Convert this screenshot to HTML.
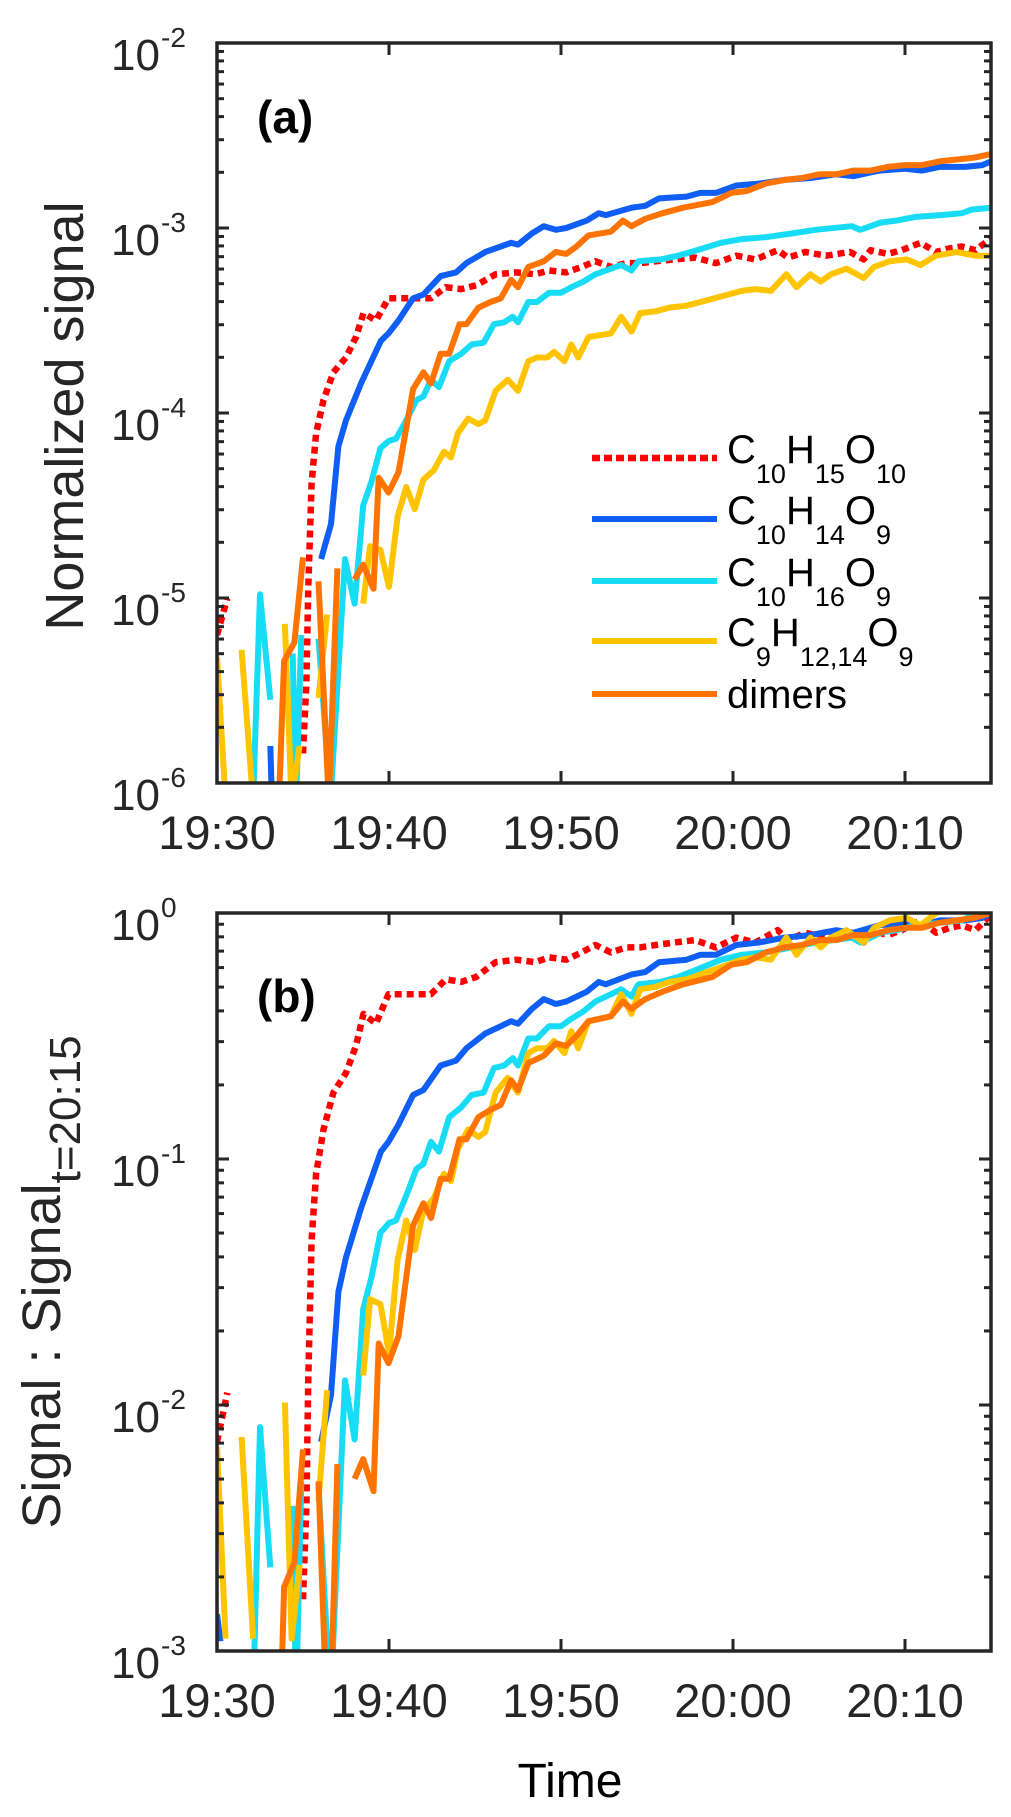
<!DOCTYPE html>
<html><head><meta charset="utf-8"><style>
html,body{margin:0;padding:0;background:#fff;}
svg{display:block;font-family:"Liberation Sans",Arial,sans-serif;}
</style></head><body>
<svg id="chart" width="1011" height="1817" viewBox="0 0 1011 1817" xmlns="http://www.w3.org/2000/svg">
<defs>
<clipPath id="clipA"><rect x="217" y="43" width="774" height="740"/></clipPath>
<clipPath id="clipB"><rect x="217" y="913" width="774" height="738"/></clipPath>
</defs>
<g id="panelA"></g>
<g id="panelB"></g>
<text x="257" y="133" font-size="46" font-weight="bold" fill="#000">(a)</text>
<text x="257" y="1012" font-size="46" font-weight="bold" fill="#000">(b)</text>
<text transform="translate(83,416) rotate(-90)" text-anchor="middle" font-size="54" fill="#262626">Normalized signal</text>
<text transform="translate(60,1282) rotate(-90)" text-anchor="middle" font-size="54" fill="#262626">Signal : Signal<tspan font-size="44" dy="20">t=20:15</tspan></text>
<text x="570" y="1797" text-anchor="middle" font-size="48" fill="#000">Time</text>
<g fill="#000">
 <line x1="592" y1="458" x2="717" y2="458" stroke="#ff0000" stroke-width="6.5" stroke-dasharray="8 4"/>
 <text x="727" y="463" font-size="40">C<tspan font-size="27" dy="20">10</tspan><tspan dy="-20">H</tspan><tspan font-size="27" dy="20">15</tspan><tspan dy="-20">O</tspan><tspan font-size="27" dy="20">10</tspan></text>
 <line x1="592" y1="519" x2="717" y2="519" stroke="#0f5ef5" stroke-width="6"/>
 <text x="727" y="524" font-size="40">C<tspan font-size="27" dy="20">10</tspan><tspan dy="-20">H</tspan><tspan font-size="27" dy="20">14</tspan><tspan dy="-20">O</tspan><tspan font-size="27" dy="20">9</tspan></text>
 <line x1="592" y1="581" x2="717" y2="581" stroke="#18dcf5" stroke-width="6"/>
 <text x="727" y="586" font-size="40">C<tspan font-size="27" dy="20">10</tspan><tspan dy="-20">H</tspan><tspan font-size="27" dy="20">16</tspan><tspan dy="-20">O</tspan><tspan font-size="27" dy="20">9</tspan></text>
 <line x1="592" y1="641" x2="717" y2="641" stroke="#ffc400" stroke-width="6"/>
 <text x="727" y="646" font-size="40">C<tspan font-size="27" dy="20">9</tspan><tspan dy="-20">H</tspan><tspan font-size="27" dy="20">12,14</tspan><tspan dy="-20">O</tspan><tspan font-size="27" dy="20">9</tspan></text>
 <line x1="592" y1="694" x2="717" y2="694" stroke="#ff7300" stroke-width="6"/>
 <text x="727" y="708" font-size="40">dimers</text>
</g>
</svg>
<script>
// time in minutes after 19:30, values as log10(signal)
const redTime = [0,0.3,0.6,0.7,4.5,4.7,4.9,5.0,5.2,5.3,5.5,5.76,6.19,6.77,7.5,8.08,8.52,9.24,9.97,11.0,12.44,13.3,14.2,15.06,16.2,17.4,18.5,19.3,20.3,21.2,22.0,22.9,23.8,24.6,25.5,26.6,27.8,29.0,30.2,31.3,32.6,33.2,34.2,35.4,36.8,37.6,38.0,39.0,39.8,40.9,41.8,42.6,43.3,44.1,44.8,45.0];
const redLog = [-5.2,-5.1,-5.0,null,-5.55,-5.65,null,-5.84,-5.46,-4.96,-4.38,-4.11,-3.93,-3.78,-3.70,-3.59,-3.46,-3.50,-3.38,-3.38,-3.38,-3.32,-3.33,-3.31,-3.25,-3.24,-3.25,-3.23,-3.24,-3.21,-3.18,-3.21,-3.19,-3.19,-3.18,-3.17,-3.16,-3.19,-3.15,-3.17,-3.12,-3.16,-3.13,-3.15,-3.13,-3.17,-3.12,-3.14,-3.12,-3.08,-3.13,-3.11,-3.10,-3.12,-3.07,-3.05];
const blueTime = [0,0.2,0.3,3.1,3.2,3.3,6.05,6.63,7.06,7.5,8.37,9.53,9.97,10.55,11.4,12.0,13.0,13.9,14.5,15.6,16.5,17.1,17.5,18.3,19.0,19.7,20.3,21.5,22.2,22.6,24.1,24.9,25.7,27.3,28.1,29.0,30.2,31.5,33.0,34.5,36.0,37.0,38.5,40.0,41.0,42.0,43.5,44.5,45];
const blueLog = [-5.49,-5.6,null,-5.8,-6.1,null,-4.79,-4.60,-4.18,-4.04,-3.84,-3.61,-3.57,-3.50,-3.38,-3.36,-3.26,-3.24,-3.19,-3.13,-3.10,-3.08,-3.09,-3.03,-2.99,-3.01,-3.00,-2.96,-2.92,-2.93,-2.89,-2.88,-2.84,-2.83,-2.81,-2.81,-2.77,-2.76,-2.74,-2.73,-2.71,-2.72,-2.69,-2.68,-2.69,-2.67,-2.67,-2.66,-2.64];
const cyanTime = [2.1,2.5,3.1,3.2,4.4,4.6,4.9,5.0,5.9,6.6,7.44,8.0,8.5,8.98,9.5,10.0,10.4,11.0,11.6,12.0,12.44,12.9,13.5,14.2,14.8,15.5,16.1,16.7,17.2,17.5,18.1,18.6,19.3,20.0,20.6,21.3,22.0,22.9,23.5,24.1,24.5,25.8,26.8,27.9,29.3,30.5,31.9,33.4,34.8,36.9,37.4,38.6,39.5,40.6,42.1,43.3,43.9,45];
const cyanLog = [-6.1,-4.98,-5.55,null,-5.3,-6.1,-5.2,null,-5.22,-6.1,-4.79,-5.03,-4.50,-4.37,-4.19,-4.15,-4.14,-4.04,-3.93,-3.91,-3.82,-3.86,-3.72,-3.68,-3.63,-3.62,-3.52,-3.51,-3.48,-3.51,-3.40,-3.40,-3.35,-3.35,-3.32,-3.29,-3.25,-3.22,-3.20,-3.23,-3.18,-3.17,-3.15,-3.12,-3.08,-3.06,-3.05,-3.03,-3.01,-2.99,-3.01,-2.97,-2.96,-2.94,-2.93,-2.92,-2.90,-2.89];
const yellowTime = [0,0.5,0.6,1.43,2.1,2.2,3.95,4.34,4.8,4.9,5.9,6.4,6.5,8.5,8.9,9.5,10.0,10.5,11.0,11.5,12.0,12.6,13.2,13.6,14.0,14.6,15.2,15.6,16.2,16.9,17.5,18.1,18.6,19.2,19.6,20.2,20.6,21.0,21.6,22.9,23.5,24.1,24.6,25.5,26.3,27.3,28.1,29.3,30.5,31.3,32.2,33.1,33.7,34.5,35.1,35.7,36.6,37.6,38.2,39.1,40.1,40.9,41.8,43.0,44.1,45];
const yellowLog = [-5.32,-6.1,null,-5.28,-6.1,null,-5.14,-6.1,-5.8,null,-5.54,-5.09,null,-5.03,-4.72,-4.74,-4.94,-4.56,-4.40,-4.52,-4.36,-4.31,-4.21,-4.24,-4.11,-4.03,-4.06,-4.04,-3.88,-3.82,-3.88,-3.72,-3.70,-3.70,-3.67,-3.72,-3.63,-3.70,-3.59,-3.57,-3.48,-3.56,-3.46,-3.45,-3.43,-3.42,-3.40,-3.37,-3.34,-3.33,-3.34,-3.25,-3.32,-3.25,-3.29,-3.25,-3.22,-3.27,-3.21,-3.18,-3.17,-3.20,-3.15,-3.13,-3.15,-3.15];
const orangeTime = [3.6,3.9,4.5,5.0,5.1,5.9,6.5,7.0,7.1,8.0,8.5,9.1,9.4,9.97,10.55,11.4,12.0,12.44,13.0,13.5,14.1,14.5,15.2,15.9,16.5,17.1,17.5,18.1,19.0,19.7,20.3,20.9,21.6,22.9,23.6,24.1,24.9,25.9,27.1,28.8,29.9,30.8,31.9,33,34,35,36,37,38,39,40,41,42,43,44,45];
const orangeLog = [-6.1,-5.34,-5.24,-4.78,null,-4.91,-6.1,-4.84,null,-4.90,-4.82,-4.95,-4.35,-4.43,-4.32,-3.87,-3.78,-3.84,-3.68,-3.68,-3.52,-3.52,-3.43,-3.40,-3.38,-3.28,-3.32,-3.21,-3.18,-3.13,-3.14,-3.10,-3.04,-3.02,-2.96,-2.99,-2.95,-2.92,-2.89,-2.86,-2.81,-2.80,-2.76,-2.74,-2.73,-2.71,-2.71,-2.69,-2.69,-2.67,-2.66,-2.66,-2.64,-2.63,-2.62,-2.60];
const xTickMinutes = [0,10,20,30,40];
const xTickLabels = ["19:30","19:40","19:50","20:00","20:10"];
const yTicksA = [-6,-5,-4,-3,-2];
const yTicksB = [-3,-2,-1,0];

const NS = "http://www.w3.org/2000/svg";
const X0 = 217, X1 = 991;
function xScale(t){ return X0 + t * (X1 - X0) / 45; }
const panels = [
  {g: document.getElementById('panelA'), top: 43, bottom: 783, lmin: -6, lmax: -2, ticks: yTicksA, clip: 'clipA', norm: false, key: 'a'},
  {g: document.getElementById('panelB'), top: 913, bottom: 1651, lmin: -3, lmax: 0, ticks: yTicksB, clip: 'clipB', norm: true, key: 'b'}
];
const series = [
  {name:'c10h15o10', t: redTime, v: redLog, color:'#ff0000', w:6.5, dash:'7 5'},
  {name:'c10h14o9', t: blueTime, v: blueLog, color:'#0f5ef5', w:6},
  {name:'c10h16o9', t: cyanTime, v: cyanLog, color:'#18dcf5', w:6},
  {name:'c9h12o9', t: yellowTime, v: yellowLog, color:'#ffc400', w:6},
  {name:'dimers', t: orangeTime, v: orangeLog, color:'#ff7300', w:6}
];
function mk(tag, attrs, parent){
  const e = document.createElementNS(NS, tag);
  for (const k in attrs) e.setAttribute(k, attrs[k]);
  parent.appendChild(e);
  return e;
}
panels.forEach(p => {
  const yScale = L => p.top + (p.lmax - L) * (p.bottom - p.top) / (p.lmax - p.lmin);
  const sg = mk('g', {'clip-path': 'url(#' + p.clip + ')'}, p.g);
  
  
  series.forEach(s => {
    const last = s.v[s.v.length - 1];
    let d = '', pen = false;
    for (let i = 0; i < s.t.length; i++) {
      const v = s.v[i];
      if (v === null) { pen = false; continue; }
      const L = p.norm ? v - last : v;
      d += (pen ? 'L' : 'M') + xScale(s.t[i]).toFixed(1) + ' ' + yScale(L).toFixed(1);
      pen = true;
    }
    const path = mk('path', {d: d, fill: 'none', stroke: s.color, 'stroke-width': s.w, 'stroke-linejoin': 'round'}, sg);
    if (s.dash) path.setAttribute('stroke-dasharray', s.dash);
    
    
  });
  const box = mk('rect', {x: X0, y: p.top, width: X1 - X0, height: p.bottom - p.top, fill: 'none', stroke: '#262626', 'stroke-width': 3.5}, p.g);
  
  
  const tg = mk('g', {stroke: '#262626', 'stroke-width': 3}, p.g);
  
  
  for (let dec = p.lmin; dec < p.lmax; dec++) {
    for (let m = 2; m <= 9; m++) {
      const y = yScale(dec + Math.log10(m));
      mk('line', {x1: X0, x2: X0 + 7, y1: y, y2: y}, tg);
      mk('line', {x1: X1, x2: X1 - 7, y1: y, y2: y}, tg);
    }
  }
  p.ticks.forEach(L => {
    const y = yScale(L);
    mk('line', {x1: X0, x2: X0 + 12, y1: y, y2: y}, tg);
    mk('line', {x1: X1, x2: X1 - 12, y1: y, y2: y}, tg);
    const tx = mk('text', {x: 160, y: y + 27, 'text-anchor': 'end', 'font-size': 44, fill: '#262626'}, p.g);
    tx.textContent = '10';
    
    
    const sup = mk('text', {x: 161, y: y + 4, 'font-size': 28, fill: '#262626'}, p.g);
    sup.textContent = String(L);
    
    
  });
  xTickMinutes.forEach((t, i) => {
    const x = xScale(t);
    mk('line', {x1: x, x2: x, y1: p.bottom, y2: p.bottom - 12}, tg);
    mk('line', {x1: x, x2: x, y1: p.top, y2: p.top + 12}, tg);
    const tx = mk('text', {x: x, y: p.bottom + 66, 'text-anchor': 'middle', 'font-size': 47, fill: '#262626'}, p.g);
    tx.textContent = xTickLabels[i];
    
    
  });
});
</script>
</body></html>
